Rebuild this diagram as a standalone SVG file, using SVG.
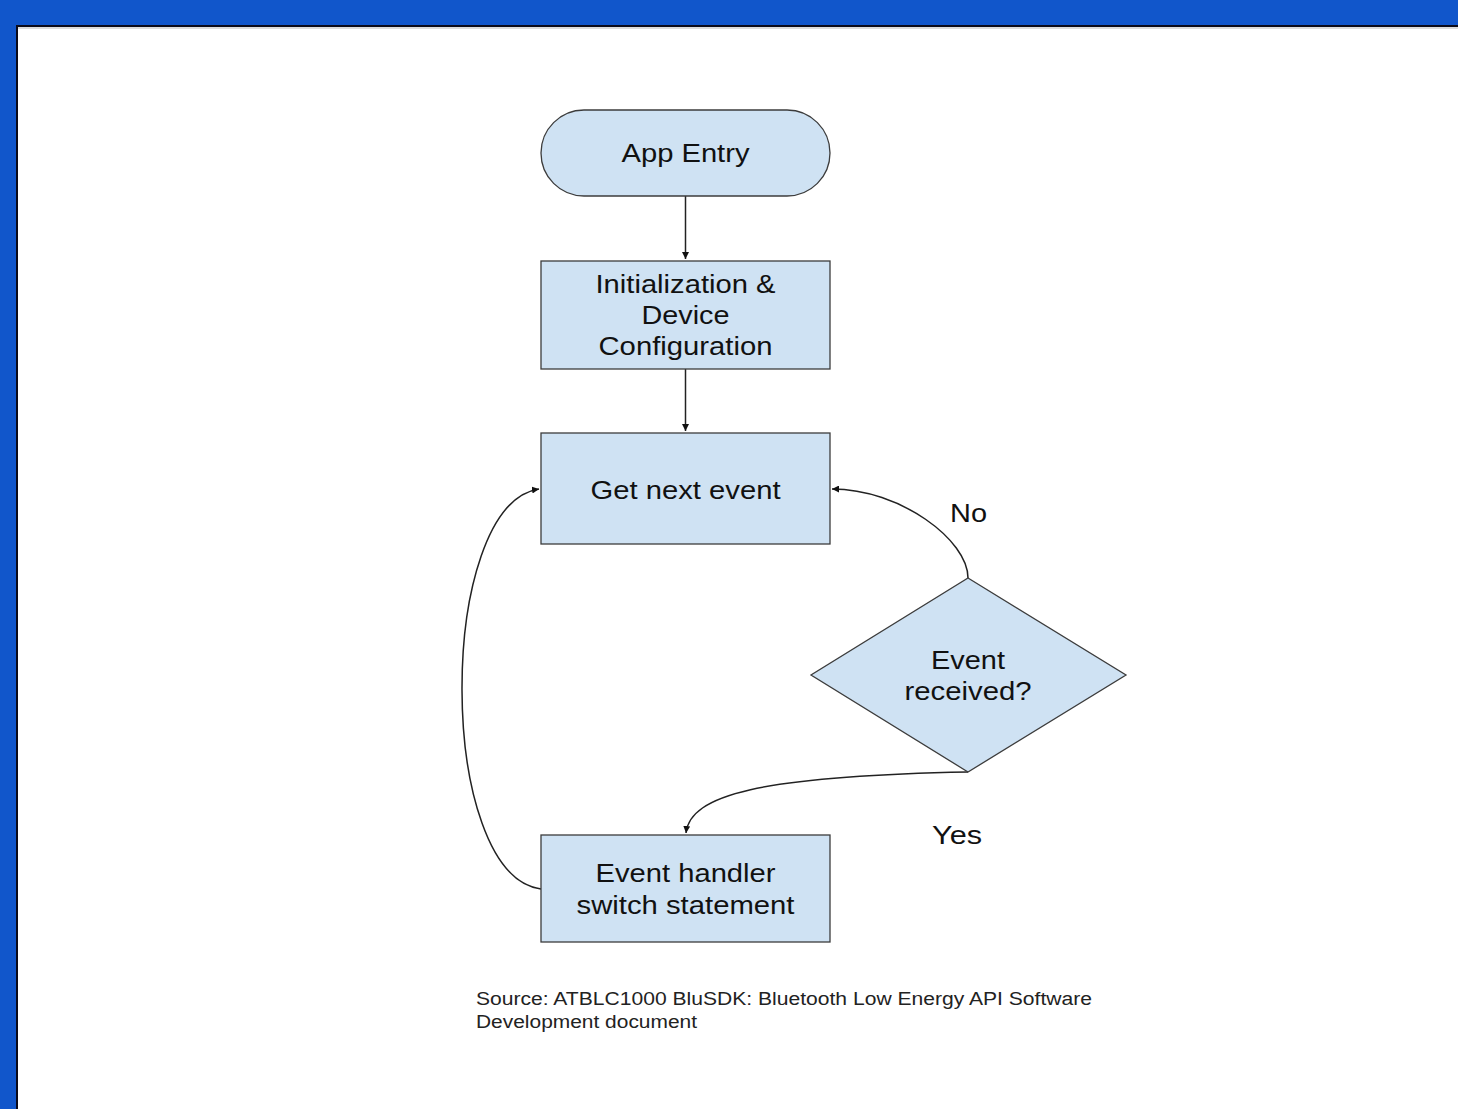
<svg xmlns="http://www.w3.org/2000/svg" width="1458" height="1109" viewBox="0 0 1458 1109">
<defs>
<style>
.node{fill:#cfe2f3;stroke:#3c3c3c;stroke-width:1.3}
.lbl{font-family:"Liberation Sans",Arial,sans-serif;font-size:26px;fill:#111;text-anchor:middle}
.edge{fill:none;stroke:#222;stroke-width:1.5}
.src{font-family:"Liberation Sans",Arial,sans-serif;font-size:18px;fill:#222}
</style>
<marker id="arr" viewBox="0 0 10 10" refX="10" refY="5" markerWidth="7" markerHeight="7" markerUnits="userSpaceOnUse" orient="auto">
<path d="M0,0 L10,5 L0,10 z" fill="#111"/>
</marker>
</defs>
<rect x="0" y="0" width="1458" height="1109" fill="#1156cb"/>
<rect x="17" y="26" width="1500" height="1200" fill="#ffffff" stroke="#0b0b1a" stroke-width="2"/>
<line x1="18" y1="28" x2="1458" y2="28" stroke="#d0d0d0" stroke-width="1.5"/>

<g id="connectors">
<path class="edge" d="M685.5,196 L685.5,259" marker-end="url(#arr)"/>
<path class="edge" d="M685.5,369 L685.5,431" marker-end="url(#arr)"/>
<path class="edge" d="M968,578 C968,540 900,489 832,489" marker-end="url(#arr)"/>
<path class="edge" d="M968,772 C760,776 690,795 686,833" marker-end="url(#arr)"/>
<path class="edge" d="M541,889 C436,875 436,505 539,489" marker-end="url(#arr)"/>
</g>

<g id="app-entry">
<rect class="node" x="541" y="110" width="289" height="86" rx="43" ry="43"/>
<text class="lbl" x="685.5" y="162" textLength="128" lengthAdjust="spacingAndGlyphs">App Entry</text>
</g>
<g id="init">
<rect class="node" x="541" y="261" width="289" height="108"/>
<text class="lbl" x="685.5" y="293" textLength="180" lengthAdjust="spacingAndGlyphs">Initialization &amp;</text>
<text class="lbl" x="685.5" y="324" textLength="88" lengthAdjust="spacingAndGlyphs">Device</text>
<text class="lbl" x="685.5" y="355" textLength="174" lengthAdjust="spacingAndGlyphs">Configuration</text>
</g>
<g id="get-next-event">
<rect class="node" x="541" y="433" width="289" height="111"/>
<text class="lbl" x="685.5" y="499" textLength="190" lengthAdjust="spacingAndGlyphs">Get next event</text>
</g>
<g id="event-received">
<polygon class="node" points="968,578 1126,675 968,772 811,675"/>
<text class="lbl" x="968" y="669" textLength="74" lengthAdjust="spacingAndGlyphs">Event</text>
<text class="lbl" x="968" y="700" textLength="127" lengthAdjust="spacingAndGlyphs">received?</text>
</g>
<g id="event-handler">
<rect class="node" x="541" y="835" width="289" height="107"/>
<text class="lbl" x="685.5" y="882" textLength="180" lengthAdjust="spacingAndGlyphs">Event handler</text>
<text class="lbl" x="685.5" y="914" textLength="218" lengthAdjust="spacingAndGlyphs">switch statement</text>
</g>
<g id="labels">
<text class="lbl" x="968.5" y="522" textLength="37" lengthAdjust="spacingAndGlyphs">No</text>
<text class="lbl" x="957" y="844" textLength="50" lengthAdjust="spacingAndGlyphs">Yes</text>
</g>
<g id="source">
<text class="src" x="476" y="1005" textLength="616" lengthAdjust="spacingAndGlyphs">Source: ATBLC1000 BluSDK: Bluetooth Low Energy API Software</text>
<text class="src" x="476" y="1028" textLength="221" lengthAdjust="spacingAndGlyphs">Development document</text>
</g>
</svg>
